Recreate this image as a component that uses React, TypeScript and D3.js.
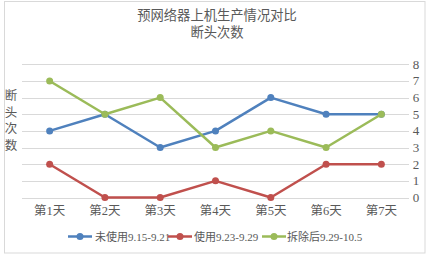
import React from "react";
import * as d3 from "d3";

const categories = ["第1天", "第2天", "第3天", "第4天", "第5天", "第6天", "第7天"];
const seriesNames = ["未使用9.15-9.21", "使用9.23-9.29", "拆除后9.29-10.5"];
const unused = [4, 5, 3, 4, 6, 5, 5];
const used = [2, 0, 0, 1, 0, 2, 2];
const removed = [7, 5, 6, 3, 4, 3, 5];
const yTicks = [0, 1, 2, 3, 4, 5, 6, 7, 8];
const colors = ["#4F81BD", "#C0504D", "#9BBB59"];
const titleLines = ["预网络器上机生产情况对比", "断头次数"];
const yAxisLabel = ["断", "头", "次", "数"];

const W = 433;
const H = 254;
const FONT = "'Liberation Serif', 'Noto Sans CJK SC', serif";
const TXT = "#595959";

export default function App() {
  const x = d3.scaleBand<string>().domain(categories).range([22, 409]);
  const y = d3.scaleLinear().domain([0, 8]).range([197.5, 64.3]);
  const line = d3
    .line<number>()
    .x((_, i) => (x(categories[i]) as number) + x.bandwidth() / 2)
    .y((d) => y(d));
  const series = [unused, used, removed];

  const legendItems = [
    { lx: 68, tx: 95 },
    { lx: 168, tx: 194 },
    { lx: 262, tx: 287 },
  ];

  return (
    <div style={{ position: "absolute", left: 0, top: 0 }}>
      <svg width={W} height={H} style={{ display: "block" }}>
        <rect x={0} y={0} width={W} height={H} fill="#fff" />
        <rect x={4.5} y={1.5} width={420.5} height={251.5} fill="none" stroke="#D9D9D9" strokeWidth={1} />
        {titleLines.map((t, i) => (
          <text key={i} x={217} y={20 + i * 17} textAnchor="middle" fontFamily={FONT} fontSize={13.3} fill={TXT}>
            {t}
          </text>
        ))}
        {yTicks.map((t) => (
          <g key={t}>
            <line x1={22} x2={409} y1={Math.round(y(t)) + 0.5} y2={Math.round(y(t)) + 0.5} stroke="#D9D9D9" strokeWidth={1} />
            <text x={416} y={y(t) + 4.5} textAnchor="middle" fontFamily={FONT} fontSize={13} fill={TXT}>
              {t}
            </text>
          </g>
        ))}
        {yAxisLabel.map((c, i) => (
          <text key={i} x={11} y={100 + i * 16.7} textAnchor="middle" fontFamily={FONT} fontSize={12.5} fill={TXT}>
            {c}
          </text>
        ))}
        {categories.map((c) => (
          <text
            key={c}
            x={(x(c) as number) + x.bandwidth() / 2}
            y={214.5}
            textAnchor="middle"
            fontFamily={FONT}
            fontSize={12.5}
            fill={TXT}
          >
            {c}
          </text>
        ))}
        {series.map((s, si) => (
          <g key={si}>
            <path d={line(s) || ""} fill="none" stroke={colors[si]} strokeWidth={2.5} strokeLinejoin="round" />
            {s.map((v, i) => (
              <circle
                key={i}
                cx={(x(categories[i]) as number) + x.bandwidth() / 2}
                cy={y(v)}
                r={3.5}
                fill={colors[si]}
              />
            ))}
          </g>
        ))}
        {legendItems.map((li, i) => (
          <g key={i}>
            <line x1={li.lx} x2={li.lx + 24} y1={236.5} y2={236.5} stroke={colors[i]} strokeWidth={2.5} />
            <circle cx={li.lx + 12} cy={236.5} r={3.5} fill={colors[i]} />
            <text x={li.tx} y={240.5} fontFamily={FONT} fontSize={11} fill={TXT}>
              {seriesNames[i]}
            </text>
          </g>
        ))}
      </svg>
    </div>
  );
}
